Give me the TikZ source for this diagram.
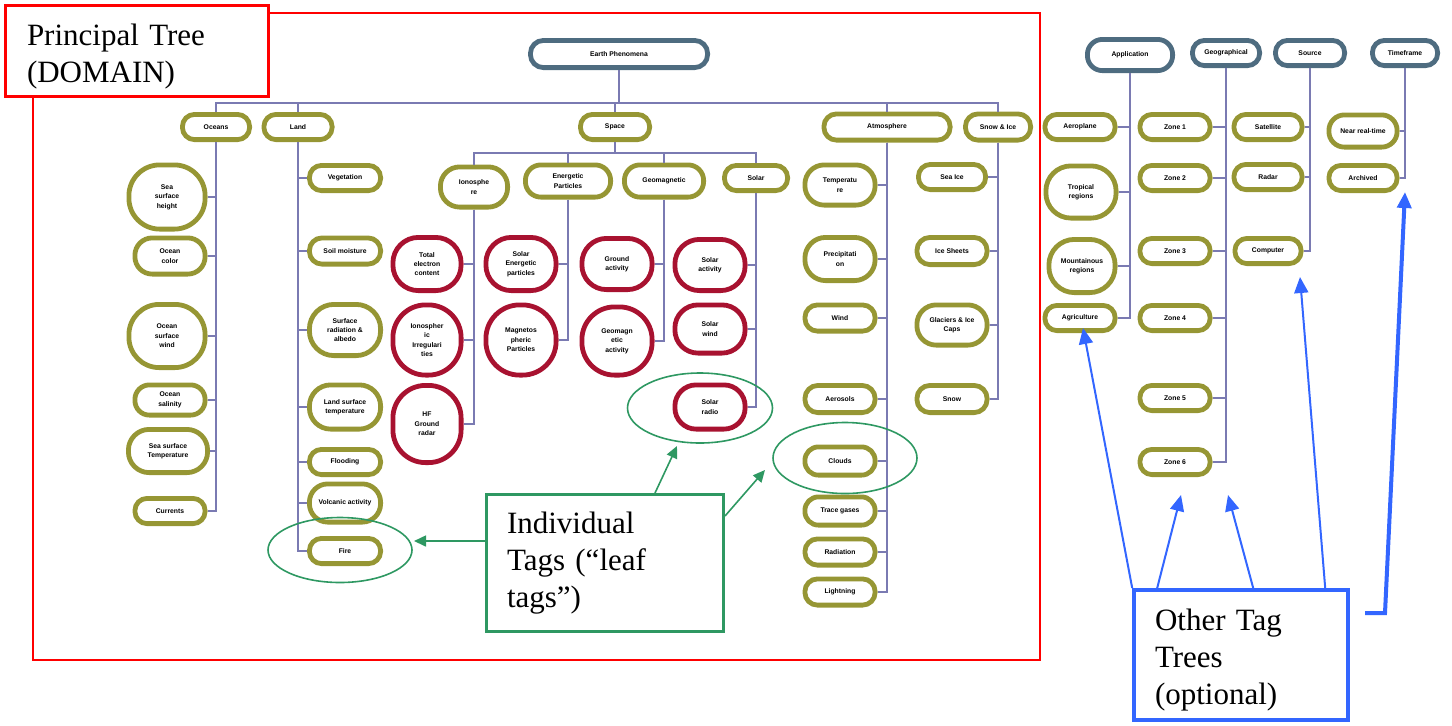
\documentclass[tikz,border=0pt]{standalone}
\usepackage{fontspec}
\setmainfont{Liberation Serif}
\newfontfamily\tagfont{Liberation Sans}
\usetikzlibrary{calc,shapes.geometric,arrows.meta}
\definecolor{olv}{RGB}{150,150,52}
\definecolor{crim}{RGB}{168,18,48}
\definecolor{slate}{RGB}{78,108,128}
\definecolor{linkc}{RGB}{122,122,178}
\definecolor{grn}{RGB}{46,152,98}
\definecolor{blu}{RGB}{51,102,255}

\begin{document}
\begin{tikzpicture}[x=0.5pt,y=-0.5pt,
    tagsize/.style 2 args={minimum width=#1*0.5pt-2.4pt,minimum height=#2*0.5pt-2.4pt,
      rounded corners={(min(#1,#2)*0.5-2.4)*0.48pt}},
    tagbase/.style={fill=white,line width=2.4pt,inner sep=0pt,align=center,
      font=\tagfont\fontsize{3.4}{4.7}\selectfont\bfseries},
    roottag/.style 2 args={tagbase,draw=slate,tagsize={#1}{#2}},
    lvltag/.style 2 args={tagbase,draw=olv,tagsize={#1}{#2}},
    leaftag/.style 2 args={tagbase,draw=crim,tagsize={#1}{#2}},
    link/.style={draw=linkc,line width=0.75pt},
    ring/.style 2 args={ellipse,draw=grn,line width=0.8pt,inner sep=0pt,
      minimum width=#1*0.5pt,minimum height=#2*0.5pt},
    callout/.style={rectangle,fill=white,align=left,inner ysep=0pt,
      font=\fontsize{15.5}{18.4}\selectfont},
    garrow/.style={->,>={Triangle[length=6pt,width=5.5pt]},draw=grn,line width=0.8pt},
    barrow/.style={->,>={Triangle[length=8pt,width=7pt]},draw=blu,line width=1pt}]
  \useasboundingbox (0,0) rectangle (1452,725);

  % frame of the principal tree
  \draw[red,line width=0.75pt] (33,13) rectangle (1040,660);
  \node[callout,draw=red,line width=1.5pt,text width=110pt,inner xsep=10.75pt,
    minimum height=45.5pt] (domain) at (137,51) {\rule{0pt}{16pt}Principal Tree\\(DOMAIN)};

  % principal tree
  \node[roottag={182}{32}] (earth) at (619,54) {Earth Phenomena};
  \node[lvltag={72}{30}] (ocean) at (216,127) {Oceans};
  \node[lvltag={73}{30}] (land) at (298,127) {Land};
  \node[lvltag={74}{30}] (space) at (615,127) {Space};
  \node[lvltag={131}{31}] (atmos) at (887,127) {Atmosphere};
  \node[lvltag={70}{31}] (snow) at (998,127) {Snow \& Ice};
  \draw[link] (earth.south) -- ++(0,33) -| (ocean.north);
  \draw[link] (earth.south) -- ++(0,33) -| (land.north);
  \draw[link] (earth.south) -- ++(0,33) -| (space.north);
  \draw[link] (earth.south) -- ++(0,33) -| (atmos.north);
  \draw[link] (earth.south) -- ++(0,33) -| (snow.north);

  % oceans
  \node[lvltag={81}{69}] (seaht) at (167,197) {Sea\\surface\\height};
  \node[lvltag={75}{41}] (ocol) at (170,256) {Ocean\\color};
  \node[lvltag={81}{68}] (owind) at (167,336) {Ocean\\surface\\wind};
  \node[lvltag={75}{35}] (osal) at (170,400) {Ocean\\salinity};
  \node[lvltag={84}{48}] (sst) at (168,451) {Sea surface\\Temperature};
  \node[lvltag={75}{30}] (ocur) at (170,511) {Currents};
  \draw[link] (ocean.south) |- (seaht.east);
  \draw[link] (ocean.south) |- (ocol.east);
  \draw[link] (ocean.south) |- (owind.east);
  \draw[link] (ocean.south) |- (osal.east);
  \draw[link] (ocean.south) |- (sst.east);
  \draw[link] (ocean.south) |- (ocur.east);

  % land
  \node[lvltag={76}{30}] (veg) at (345,178) {Vegetation};
  \node[lvltag={76}{31}] (soil) at (345,251) {Soil moisture};
  \node[lvltag={76}{56}] (albedo) at (345,330) {Surface\\radiation \&\\albedo};
  \node[lvltag={76}{49}] (lst) at (345,407) {Land surface\\temperature};
  \node[lvltag={76}{30}] (flood) at (345,462) {Flooding};
  \node[lvltag={76}{43}] (volc) at (345,503) {Volcanic activity};
  \node[lvltag={76}{30}] (fire) at (345,551) {Fire};
  \draw[link] (land.south) |- (veg.west);
  \draw[link] (land.south) |- (soil.west);
  \draw[link] (land.south) |- (albedo.west);
  \draw[link] (land.south) |- (lst.west);
  \draw[link] (land.south) |- (flood.west);
  \draw[link] (land.south) |- (volc.west);
  \draw[link] (land.south) |- (fire.west);

  % space
  \node[lvltag={72}{45}] (iono) at (474,187) {Ionosphe\\re};
  \node[lvltag={90}{37}] (epart) at (568,181) {Energetic\\Particles};
  \node[lvltag={84}{37}] (geomag) at (664,181) {Geomagnetic};
  \node[lvltag={68}{30}] (solar) at (756,178) {Solar};
  \draw[link] (space.south) -- ++(0,11) -| (iono.north);
  \draw[link] (space.south) -- ++(0,11) -| (epart.north);
  \draw[link] (space.south) -- ++(0,11) -| (geomag.north);
  \draw[link] (space.south) -- ++(0,11) -| (solar.north);

  \node[leaftag={73}{58}] (tec) at (427,264) {Total\\electron\\content};
  \node[leaftag={73}{75}] (irreg) at (427,340) {Ionospher\\ic\\Irregulari\\ties};
  \node[leaftag={73}{82}] (hfradar) at (427,424) {HF\\Ground\\radar};
  \node[leaftag={75}{58}] (sep) at (521,264) {Solar\\Energetic\\particles};
  \node[leaftag={75}{75}] (magpart) at (521,340) {Magnetos\\pheric\\Particles};
  \node[leaftag={75}{56}] (gract) at (617,264) {Ground\\activity};
  \node[leaftag={75}{73}] (gmact) at (617,341) {Geomagn\\etic\\activity};
  \node[leaftag={75}{56}] (solact) at (710,265) {Solar\\activity};
  \node[leaftag={75}{53}] (solwind) at (710,329) {Solar\\wind};
  \node[leaftag={75}{49}] (solradio) at (710,407) {Solar\\radio};
  \draw[link] (iono.south) |- (tec.east);
  \draw[link] (iono.south) |- (irreg.east);
  \draw[link] (iono.south) |- (hfradar.east);
  \draw[link] (epart.south) |- (sep.east);
  \draw[link] (epart.south) |- (magpart.east);
  \draw[link] (geomag.south) |- (gract.east);
  \draw[link] (geomag.south) |- (gmact.east);
  \draw[link] (solar.south) |- (solact.east);
  \draw[link] (solar.south) |- (solwind.east);
  \draw[link] (solar.south) |- (solradio.east);

  % atmosphere
  \node[lvltag={75}{45}] (temp) at (840,185) {Temperatu\\re};
  \node[lvltag={75}{48}] (precip) at (840,259) {Precipitati\\on};
  \node[lvltag={75}{31}] (wind) at (840,318) {Wind};
  \node[lvltag={75}{32}] (aero) at (840,399) {Aerosols};
  \node[lvltag={75}{33}] (cloud) at (840,461) {Clouds};
  \node[lvltag={75}{33}] (trace) at (840,511) {Trace gases};
  \node[lvltag={75}{31}] (rad) at (840,552) {Radiation};
  \node[lvltag={75}{31}] (light) at (840,592) {Lightning};
  \draw[link] (atmos.south) |- (temp.east);
  \draw[link] (atmos.south) |- (precip.east);
  \draw[link] (atmos.south) |- (wind.east);
  \draw[link] (atmos.south) |- (aero.east);
  \draw[link] (atmos.south) |- (cloud.east);
  \draw[link] (atmos.south) |- (trace.east);
  \draw[link] (atmos.south) |- (rad.east);
  \draw[link] (atmos.south) |- (light.east);

  % snow and ice
  \node[lvltag={72}{30}] (seaice) at (952,177) {Sea Ice};
  \node[lvltag={75}{32}] (sheet) at (952,251) {Ice Sheets};
  \node[lvltag={75}{45}] (glac) at (952,325) {Glaciers \& Ice\\Caps};
  \node[lvltag={75}{32}] (snowc) at (952,399) {Snow};
  \draw[link] (snow.south) |- (seaice.east);
  \draw[link] (snow.south) |- (sheet.east);
  \draw[link] (snow.south) |- (glac.east);
  \draw[link] (snow.south) |- (snowc.east);

  % other tag trees
  \node[roottag={90}{36}] (appl) at (1130,55) {Application};
  \node[roottag={72}{30}] (geog) at (1226,53) {Geographical};
  \node[roottag={74}{30}] (src) at (1310,53) {Source};
  \node[roottag={70}{30}] (tframe) at (1405,53) {Timeframe};

  \node[lvltag={75}{30}] (aerop) at (1080,127) {Aeroplane};
  \node[lvltag={75}{57}] (trop) at (1081,192) {Tropical\\regions};
  \node[lvltag={71}{58}] (mount) at (1082,266) {Mountainous\\regions};
  \node[lvltag={75}{30}] (agri) at (1080,318) {Agriculture};
  \draw[link] (appl.south) |- (aerop.east);
  \draw[link] (appl.south) |- (trop.east);
  \draw[link] (appl.south) |- (mount.east);
  \draw[link] (appl.south) |- (agri.east);

  \node[lvltag={75}{30}] (zone1) at (1175,127) {Zone 1};
  \node[lvltag={75}{30}] (zone2) at (1175,178) {Zone 2};
  \node[lvltag={75}{30}] (zone3) at (1175,251) {Zone 3};
  \node[lvltag={75}{30}] (zone4) at (1175,318) {Zone 4};
  \node[lvltag={75}{30}] (zone5) at (1175,398) {Zone 5};
  \node[lvltag={75}{30}] (zone6) at (1175,462) {Zone 6};
  \draw[link] (geog.south) |- (zone1.east);
  \draw[link] (geog.south) |- (zone2.east);
  \draw[link] (geog.south) |- (zone3.east);
  \draw[link] (geog.south) |- (zone4.east);
  \draw[link] (geog.south) |- (zone5.east);
  \draw[link] (geog.south) |- (zone6.east);

  \node[lvltag={73}{30}] (sat) at (1268,127) {Satellite};
  \node[lvltag={73}{30}] (radar) at (1268,177) {Radar};
  \node[lvltag={71}{30}] (comp) at (1268,251) {Computer};
  \draw[link] (src.south) |- (sat.east);
  \draw[link] (src.south) |- (radar.east);
  \draw[link] (src.south) |- (comp.east);

  \node[lvltag={73}{37}] (nrt) at (1363,131) {Near real-time};
  \node[lvltag={73}{30}] (arch) at (1363,178) {Archived};
  \draw[link] (tframe.south) |- (nrt.east);
  \draw[link] (tframe.south) |- (arch.east);

  % leaf tag call-out
  \node[ring={144}{65}] (firering) at (340,550) {};
  \node[ring={145}{70}] (solring) at (700,408) {};
  \node[ring={144}{71}] (cloudring) at (845,458) {};
  \node[callout,draw=grn,line width=1.5pt,text width=98pt,inner xsep=10.25pt,
    minimum height=68.5pt] (leafbox) at (605,563) {Individual\\Tags (“leaf\\tags”)};
  \coordinate (tipfire) at (414,541);
  \coordinate (tipsol) at (677,446);
  \coordinate (tipcloud) at (765,470);
  \draw[garrow] ($(leafbox.west)+(0,-22)$) -- (tipfire);
  \draw[garrow] ($(leafbox.north)+(50,0)$) -- (tipsol);
  \draw[garrow] ($(leafbox.north east)+(0,23)$) -- (tipcloud);

  % other tag trees call-out
  \node[callout,draw=blu,line width=1.8pt,text width=86pt,inner xsep=10.5pt,
    minimum height=65.2pt] (other) at (1241,655) {\rule{0pt}{16pt}Other Tag\\Trees\\(optional)};
  \coordinate (tipagri) at (1083,328);
  \coordinate (tipzonea) at (1181,495);
  \coordinate (tipzoneb) at (1228,495);
  \coordinate (tipcomp) at (1300,277);
  \coordinate (tiptime) at (1405,192);
  \coordinate (elbow) at (1365,613);
  \draw[barrow] (other.north west) -- (tipagri);
  \draw[barrow] ($(other.north west)+(25,0)$) -- (tipzonea);
  \draw[barrow] ($(other.north west)+(121,0)$) -- (tipzoneb);
  \draw[barrow] ($(other.north west)+(193,0)$) -- (tipcomp);
  \draw[barrow,line width=2pt] (elbow) -- ++(20,0) -- (tiptime);
\end{tikzpicture}
\end{document}
